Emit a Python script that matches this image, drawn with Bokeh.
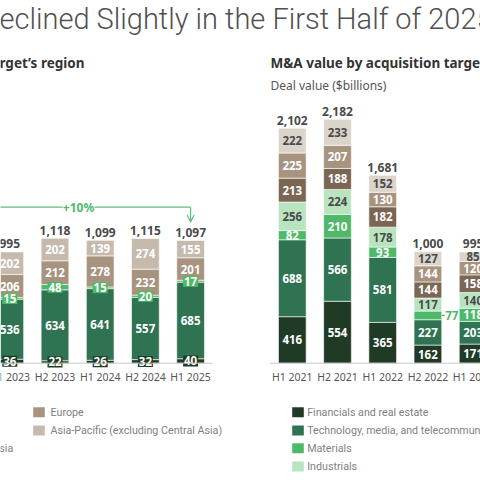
from bokeh.plotting import figure
from bokeh.models import Range1d, Arrow, OpenHead
from bokeh.core.properties import value
from bokeh.embed import file_html
from bokeh.resources import INLINE

# ---------------- data ----------------
title_text = "Declined Slightly in the First Half of 2025"
left_subtitle = "M&A value by acquisition target\u2019s region"
right_subtitle = "M&A value by acquisition target\u2019s industry"
unit_label = "Deal value ($billions)"

left_periods = ["H1 2023", "H2 2023", "H1 2024", "H2 2024", "H1 2025"]
left_latam = [36, 22, 26, 32, 40]
left_na = [536, 634, 641, 557, 685]
left_meaca = [15, 48, 15, 20, 17]
left_europe = [206, 212, 278, 232, 201]
left_apac = [202, 202, 139, 274, 155]
left_totals = [995, 1118, 1099, 1115, 1097]
left_change = "+10%"
left_legend = ["Europe", "Asia-Pacific (excluding Central Asia)"]
left_legend_cut = "Middle East, Africa, and Central Asia"

right_periods = ["H1 2021", "H2 2021", "H1 2022", "H2 2022", "H1 2023"]
right_fin = [416, 554, 365, 162, 171]
right_tmt = [688, 566, 581, 227, 203]
right_mat = [82, 210, 93, 77, 118]
right_ind = [256, 224, 178, 117, 140]
right_brown1 = [213, 188, 182, 144, 158]
right_brown2 = [225, 207, 130, 144, 120]
right_brown3 = [222, 233, 152, 127, 85]
right_totals = [2102, 2182, 1681, 1000, 995]
right_legend = ["Financials and real estate",
                "Technology, media, and telecommunications",
                "Materials", "Industrials"]

# ---------------- style ----------------
C_DARK = "#1f3b25"
C_TMT = "#2f7352"
C_BRIGHT = "#4fb96a"
C_LIGHTG = "#b8e5c0"
C_BROWN1 = "#7b6653"
C_BROWN2 = "#a8937f"
C_TAN_L = "#c5baac"
C_TAN_R = "#dbd4ca"
TXT_DARK = "#4a4a4a"
FONT = value("Noto Sans")
FONT_N = value("Roboto")
FONT_T = value("Roboto Light, Roboto")

# layout helpers (reference pixel -> data units)
SLOT0, SLOT = 9.3, 45.2
BASE, PPU = 362.7, 0.1118
def sx(px):
    return (px - SLOT0) / SLOT
def vy(py):
    return (BASE - py) / PPU

W, H = 480, 480
p = figure(width=W, height=H, output_backend="svg", toolbar_location=None,
           x_range=Range1d(sx(0), sx(W)), y_range=Range1d(vy(H), vy(0)),
           x_axis_location=None, y_axis_location=None, min_border=0,
           outline_line_color=None, background_fill_color="white",
           border_fill_color="white", title=None)
p.grid.visible = False

BW = 0.613
left_x = [float(i) for i in range(len(left_periods))]
right_x = [6.25 + i for i in range(len(right_periods))]

label_jobs = []


def stack(xs, series, colors, label_colors, boxes):
    bottom = [0.0] * len(xs)
    for vals, col, lc, box in zip(series, colors, label_colors, boxes):
        top = [b + v for b, v in zip(bottom, vals)]
        p.vbar(x=xs, bottom=bottom, top=top, width=BW, fill_color=col,
               line_color="white", line_width=0.6)
        mids = [(b + t) / 2 for b, t in zip(bottom, top)]
        label_jobs.append((xs, vals, mids, col, lc, box))
        bottom = top


def draw_labels(xs, vals, mids, col, lc, box):
    if box == "box":
        p.rect(x=xs, y=mids, width=15, height=11, width_units="screen",
               height_units="screen", fill_color=col, line_color=None)
    keep = list(range(len(vals)))
    if box == "out":
        keep = [i for i, v in enumerate(vals) if v >= 80]
        for i in [i for i, v in enumerate(vals) if v < 80]:
            x_edge = xs[i] + BW / 2
            p.segment(x0=[x_edge], y0=[mids[i]], x1=[x_edge + 3 / SLOT], y1=[mids[i]],
                      line_color=col, line_width=1.2)
            p.text(x=[x_edge + 3.5 / SLOT], y=[mids[i]], text=[str(vals[i])],
                   text_align="left", text_baseline="middle", text_font=FONT,
                   text_font_size="11.5px", text_font_style="bold", text_color=col)
    p.text(x=[xs[i] for i in keep], y=[mids[i] for i in keep],
           text=[str(vals[i]) for i in keep], text_align="center",
           text_baseline="middle", text_font=FONT, text_font_size="11.5px",
           text_font_style="bold", text_color=lc)


stack(left_x, [left_latam, left_na, left_meaca, left_europe, left_apac],
      [C_DARK, C_TMT, C_BRIGHT, C_BROWN2, C_TAN_L],
      ["white"] * 5, ["box", None, "box", None, None])
stack(right_x, [right_fin, right_tmt, right_mat, right_ind, right_brown1,
                right_brown2, right_brown3],
      [C_DARK, C_TMT, C_BRIGHT, C_LIGHTG, C_BROWN1, C_BROWN2, C_TAN_R],
      ["white", "white", "white", TXT_DARK, "white", "white", TXT_DARK],
      [None, None, "out", None, None, None, None])
for job in label_jobs:
    draw_labels(*job)

# totals
for xs, tots in ((left_x, left_totals), (right_x, right_totals)):
    p.text(x=xs, y=tots, y_offset=-8, text=[f"{t:,}" for t in tots],
           text_align="center", text_baseline="middle", text_font=FONT,
           text_font_size="12px", text_font_style="bold", text_color=TXT_DARK)

# baselines and category labels
p.segment(x0=[left_x[0] - 0.49, right_x[0] - 0.49], y0=[0, 0],
          x1=[left_x[-1] + 0.485, right_x[-1] + 0.49], y1=[0, 0],
          line_color="#c8c8c8", line_width=1)
p.text(x=left_x + right_x, y=[0] * 10, y_offset=13.5, text=left_periods + right_periods,
       text_align="center", text_baseline="middle", text_font=FONT,
       text_font_size="10.5px", text_color="#555555")

# +10% annotation
GREEN_LINE = "#5cbf74"
y_ann = max(left_totals) + 31 / PPU
p.segment(x0=[left_x[0] - 0.6, sx(94)], y0=[y_ann, y_ann], x1=[sx(62), left_x[-1]],
          y1=[y_ann, y_ann], line_color=GREEN_LINE, line_width=1.2)
p.add_layout(Arrow(end=OpenHead(size=7, line_color=GREEN_LINE, line_width=1.2),
                   x_start=left_x[-1], y_start=y_ann, x_end=left_x[-1],
                   y_end=left_totals[-1] + 18.5 / PPU,
                   line_color=GREEN_LINE, line_width=1.2))
p.text(x=[sx(78)], y=[y_ann], text=[left_change], text_align="center",
       text_baseline="middle", text_font=FONT, text_font_size="12px",
       text_font_style="bold", text_color=C_BRIGHT)

# titles
p.text(x=[sx(-20)], y=[vy(18.5)], text=[title_text], text_align="left",
       text_baseline="middle", text_font=FONT_T, text_font_size="29px",
       text_color="#505050")
p.text(x=[sx(84)], y=[vy(62.5)], text=[left_subtitle], text_align="right",
       text_baseline="middle", text_font=FONT, text_font_size="13.5px",
       text_font_style="bold", text_color="#333333")
p.text(x=[sx(270)], y=[vy(62.5)], text=[right_subtitle], text_align="left",
       text_baseline="middle", text_font=FONT, text_font_size="13.5px",
       text_font_style="bold", text_color="#333333")
p.text(x=[sx(270)], y=[vy(84.7)], text=[unit_label], text_align="left",
       text_baseline="middle", text_font=FONT, text_font_size="12px",
       text_color="#555555")

# legends
LEG_TXT = "#7f7f7f"
LEG_SIZE = "10.7px"
rows = [411.7, 430, 447.7, 466]
p.rect(x=[sx(297.5)] * 4, y=[vy(r) for r in rows], width=11.6, height=10,
       width_units="screen", height_units="screen",
       fill_color=[C_DARK, C_TMT, C_BRIGHT, C_LIGHTG], line_color=None)
p.text(x=[sx(306.7)] * 4, y=[vy(r) for r in rows], text=right_legend,
       text_align="left", text_baseline="middle", text_font=FONT_N,
       text_font_size=LEG_SIZE, text_color=LEG_TXT)
p.rect(x=[sx(38.5)] * 2, y=[vy(r) for r in rows[:2]], width=11.6, height=10,
       width_units="screen", height_units="screen",
       fill_color=[C_BROWN2, C_TAN_L], line_color=None)
p.text(x=[sx(50)] * 2, y=[vy(r) for r in rows[:2]], text=left_legend,
       text_align="left", text_baseline="middle", text_font=FONT_N,
       text_font_size=LEG_SIZE, text_color=LEG_TXT)
p.text(x=[sx(12.7)], y=[vy(447.7)], text=[left_legend_cut], text_align="right",
       text_baseline="middle", text_font=FONT_N, text_font_size=LEG_SIZE,
       text_color=LEG_TXT)

open("out.html", "w").write(file_html(p, INLINE))
